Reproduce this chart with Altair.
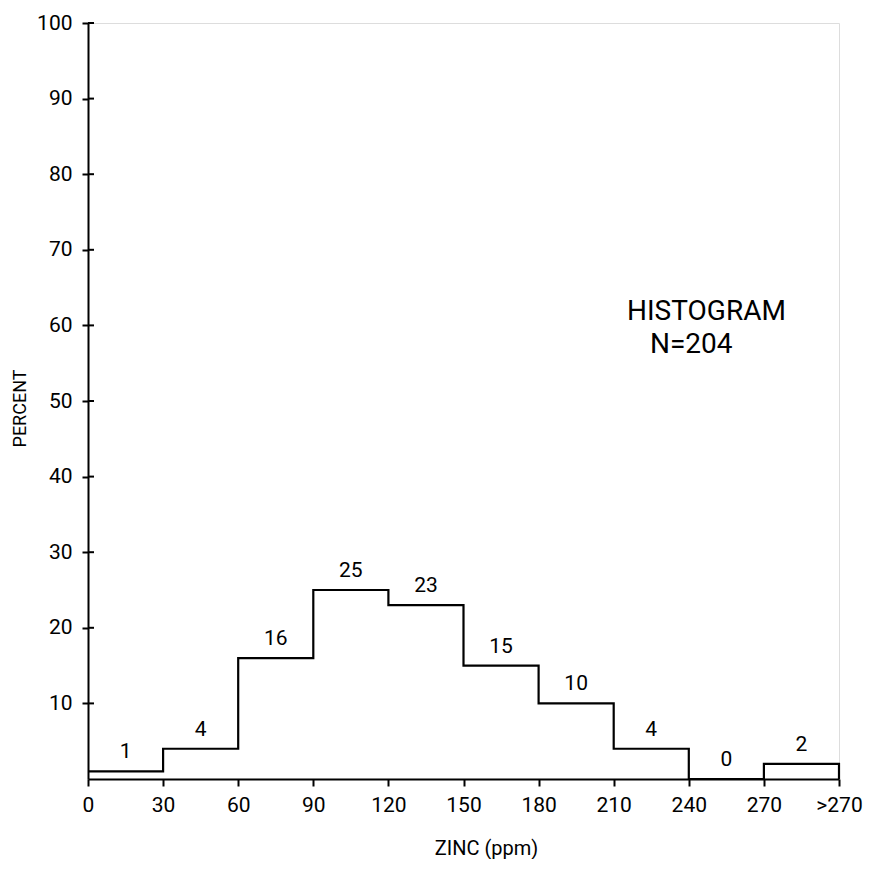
import altair as alt
import pandas as pd

# Data
bin_edges = [0, 30, 60, 90, 120, 150, 180, 210, 240, 270, 300]
percent = [1, 4, 16, 25, 23, 15, 10, 4, 0, 2]
x_tick_values = [0, 30, 60, 90, 120, 150, 180, 210, 240, 270, 300]
x_tick_labels = ["0", "30", "60", "90", "120", "150", "180", "210", "240", "270", ">270"]
y_tick_values = [10, 20, 30, 40, 50, 60, 70, 80, 90, 100]
annotation_lines = ["HISTOGRAM", "N=204"]

FONT = "Roboto"

# step outline vertices built from the bins
verts = []
for i, v in enumerate(percent):
    verts.append({"x": bin_edges[i], "y": v})
    verts.append({"x": bin_edges[i + 1], "y": v})
verts.append({"x": bin_edges[-1], "y": 0})
step_df = pd.DataFrame(verts)
step_df["order"] = range(len(step_df))

label_df = pd.DataFrame({
    "mid": [(bin_edges[i] + bin_edges[i + 1]) / 2 for i in range(len(percent))],
    "percent": percent,
    "label": [str(p) for p in percent],
})

label_map = "{" + ",".join(f"'{v}':'{l}'" for v, l in zip(x_tick_values, x_tick_labels)) + "}"

xscale = alt.Scale(domain=[0, 300], nice=False, zero=False)
yscale = alt.Scale(domain=[0, 100], nice=False)

x_axis = alt.Axis(
    values=x_tick_values,
    labelExpr=f"{label_map}[datum.value]",
    title="ZINC (ppm)",
    grid=False,
    domainColor="black", domainWidth=2,
    tickColor="black", tickWidth=2, tickSize=7,
    labelFont=FONT, labelFontSize=21, labelColor="black", labelPadding=8,
    labelFlush=False, labelOverlap=False,
    titleFont=FONT, titleFontSize=20, titleFontWeight="normal", titleColor="black",
    titleX=398, titleY=69, titleAlign="center", titleBaseline="middle",
)
y_axis = alt.Axis(
    values=y_tick_values,
    title="PERCENT",
    grid=False,
    domainColor="black", domainWidth=2,
    tickColor="black", tickWidth=2, tickSize=6,
    labelFont=FONT, labelFontSize=21, labelColor="black", labelPadding=10,
    labelFlush=False, labelOverlap=False,
    titleFont=FONT, titleFontSize=18, titleFontWeight="normal", titleColor="black",
    titleAngle=270, titleX=-68, titleY=385, titleAlign="center", titleBaseline="middle",
)

step = alt.Chart(step_df).mark_line(color="black", strokeWidth=2.2).encode(
    x=alt.X("x:Q", scale=xscale, axis=x_axis),
    y=alt.Y("y:Q", scale=yscale, axis=y_axis),
    order="order:Q",
)

labels = alt.Chart(label_df).mark_text(
    font=FONT, fontSize=21, color="black", baseline="middle", dy=-19
).encode(
    x=alt.X("mid:Q", scale=xscale),
    y=alt.Y("percent:Q", scale=yscale),
    text="label:N",
)

inner_ticks = alt.Chart(pd.DataFrame({"t": y_tick_values})).mark_rule(
    color="black", strokeWidth=2
).encode(
    y=alt.Y("t:Q", scale=yscale),
    x=alt.value(0),
    x2=alt.value(6),
)

ann = alt.Chart(pd.DataFrame({
    "text": annotation_lines,
    "px": [539, 562],
    "py": [289, 322],
})).mark_text(font=FONT, fontSize=28, color="black", align="left", baseline="middle").encode(
    x=alt.X("px:Q", scale=None),
    y=alt.Y("py:Q", scale=None),
    text="text:N",
)

chart = alt.layer(step, inner_ticks, labels, ann).properties(
    width=751,
    height=756,
    autosize=alt.AutoSizeParams(type="none"),
    padding={"left": 80, "top": 15, "right": 25, "bottom": 80},
).configure_view(stroke=None).configure(background="white")

chart.save("out.html", embed_options={"renderer": "svg", "actions": False})
